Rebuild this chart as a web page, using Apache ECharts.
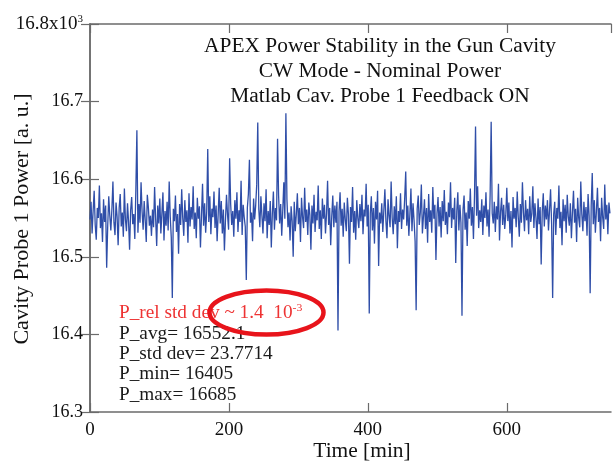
<!DOCTYPE html>
<html>
<head>
<meta charset="utf-8">
<script src="https://cdn.jsdelivr.net/npm/echarts@6/dist/echarts.min.js"></script>
<style>
	html, body { margin: 0; padding: 0; background: #fff; }
	#probe-power { width: 615px; height: 464px; }
</style>
</head>
<body>
<div id="probe-power"></div>
<script>
// 采样间隔(min)
var timeStep = 1.5;

// 腔体探针1功率读数 (a.u.)，每 1.5 min 一个点
var probePower = [
	16548, 16571, 16530, 16559, 16585, 16541, 16522, 16563, 16550, 16592, 16537, 16556, 16519, 16574, 16545, 16566, 16486, 16540, 16578, 16553,
	16534, 16561, 16597, 16544, 16528, 16570, 16552, 16515, 16563, 16581, 16539, 16557, 16526, 16588, 16548, 16533, 16569, 16545, 16509, 16560,
	16577, 16542, 16555, 16523, 16586, 16663, 16531, 16568, 16544, 16596, 16558, 16535, 16572, 16547, 16519, 16580, 16564, 16540, 16553, 16527,
	16561, 16538, 16590, 16549, 16514, 16566, 16543, 16575, 16530, 16556, 16583, 16521, 16559, 16540, 16571, 16534, 16597, 16552, 16525, 16447,
	16562, 16546, 16579, 16532, 16555, 16504, 16568, 16541, 16587, 16550, 16527, 16573, 16545, 16560, 16518, 16582, 16539, 16564, 16548, 16591,
	16536, 16557, 16524, 16576, 16549, 16565, 16512, 16553, 16594, 16540, 16569, 16531, 16558, 16639, 16545, 16578, 16529, 16562, 16551, 16584,
	16537, 16566, 16520, 16555, 16589, 16543, 16572, 16530, 16561, 16508, 16547, 16580, 16554, 16535, 16627, 16568, 16541, 16559, 16526, 16573,
	16549, 16583, 16532, 16560, 16545, 16598, 16528, 16567, 16551, 16539, 16470, 16563, 16581, 16625, 16544, 16557, 16520, 16575, 16548, 16566,
	16593, 16673, 16561, 16538, 16578, 16553, 16530, 16569, 16546, 16587, 16524, 16559, 16541, 16572, 16512, 16556, 16584, 16535, 16563, 16547,
	16652, 16579, 16543, 16568, 16527, 16560, 16596, 16549, 16685, 16574, 16538, 16557, 16521, 16565, 16546, 16500, 16571, 16533, 16555, 16582,
	16542, 16563, 16519, 16576, 16551, 16537, 16589, 16545, 16561, 16528, 16570, 16554, 16509, 16566, 16543, 16580, 16532, 16558, 16547, 16592,
	16536, 16560, 16523, 16575, 16549, 16567, 16530, 16556, 16598, 16541, 16563, 16515, 16552, 16579, 16538, 16566, 16544, 16571, 16405, 16558,
	16583, 16540, 16562, 16526, 16570, 16548, 16533, 16576, 16555, 16491, 16564, 16545, 16590, 16531, 16559, 16522, 16573, 16550, 16537, 16568,
	16546, 16580, 16529, 16561, 16552, 16594, 16539, 16567, 16427, 16556, 16578, 16534, 16563, 16517, 16571, 16548, 16585, 16488, 16557, 16543,
	16569, 16532, 16560, 16587, 16546, 16524, 16574, 16553, 16538, 16597, 16550, 16529, 16565, 16542, 16578, 16511, 16559, 16545, 16582, 16536,
	16561, 16548, 16575, 16610, 16540, 16566, 16527, 16555, 16588, 16533, 16569, 16547, 16520, 16431, 16562, 16579, 16541, 16557, 16593, 16530,
	16552, 16574, 16536, 16563, 16518, 16581, 16545, 16560, 16531, 16590, 16549, 16567, 16496, 16556, 16577, 16539, 16564, 16525, 16572, 16546,
	16586, 16541, 16558, 16529, 16570, 16551, 16596, 16537, 16563, 16548, 16576, 16492, 16559, 16583, 16534, 16567, 16544, 16424, 16561, 16579,
	16535, 16557, 16514, 16572, 16549, 16588, 16540, 16564, 16523, 16578, 16668, 16553, 16591, 16537, 16560, 16545, 16574, 16528, 16566, 16550,
	16583, 16539, 16561, 16526, 16580, 16674, 16556, 16543, 16571, 16532, 16565, 16548, 16594, 16521, 16558, 16576, 16541, 16567, 16536, 16553,
	16589, 16546, 16570, 16530, 16559, 16512, 16577, 16549, 16563, 16538, 16584, 16551, 16526, 16568, 16544, 16596, 16557, 16533, 16573, 16547,
	16562, 16529, 16578, 16545, 16556, 16591, 16537, 16569, 16550, 16523, 16575, 16542, 16564, 16490, 16558, 16582, 16539, 16566, 16548, 16573,
	16534, 16560, 16587, 16543, 16447, 16555, 16571, 16528, 16563, 16549, 16592, 16537, 16558, 16515, 16574, 16546, 16567, 16531, 16580, 16552,
	16540, 16569, 16524, 16557, 16585, 16544, 16562, 16519, 16576, 16550, 16538, 16597, 16555, 16533, 16571, 16546, 16564, 16527, 16581, 16553,
	16453, 16566, 16608, 16542, 16573, 16531, 16559, 16589, 16545, 16563, 16520, 16576, 16551, 16536, 16593, 16548, 16567, 16529, 16570, 16556
];

// 坐标轴刻度
var xTicks = [0, 750, 200];          // min, max, interval
var yTicks = [16300, 16800, 100];

// 文字
var titleLines = ['APEX Power Stability in the Gun Cavity', 'CW Mode - Nominal Power', 'Matlab Cav. Probe 1 Feedback ON'];
var statLines = ['P_avg= 16552.1', 'P_std dev= 23.7714', 'P_min= 16405', 'P_max= 16685'];
var xName = 'Time [min]';
var yName = 'Cavity Probe 1 Power [a. u.]';

var serif = '"Liberation Serif", "DejaVu Serif", serif';
var frameColor = '#6b6b6b';
// 原图文字略微横向拉伸
var stretch = 1.07;

var chartObj = echarts.init(document.getElementById('probe-power'));

var seriesData = [];
for (var i = 0; i < probePower.length; i++) {
	seriesData.push([i * timeStep, probePower[i]]);
}

// 上/右侧只画刻度的镜像轴
function mirrorAxis(base, pos) {
	return {
		type: 'value', position: pos,
		min: base[0], max: base[1], interval: base[2],
		axisLine: { show: true, lineStyle: { color: frameColor, width: 1.5 } },
		axisTick: { show: true, inside: true, length: 9, lineStyle: { color: frameColor, width: 1.2 } },
		axisLabel: { show: false },
		splitLine: { show: false }
	};
}

var titleGraphics = titleLines.map(function (txt, k) {
	return {
		type: 'text', x: 380, y: 47 + k * 25, scaleX: stretch, z: 10,
		style: { text: txt, font: '20px ' + serif, fill: '#111', align: 'center', verticalAlign: 'middle' }
	};
});

var statGraphics = statLines.map(function (txt, k) {
	return {
		type: 'text', x: 119, y: 334 + k * 20.3, scaleX: stretch, z: 10,
		style: { text: txt, font: '18px ' + serif, fill: '#1a1a1a', align: 'left', verticalAlign: 'middle' }
	};
});

var option = {
	animation: false,
	grid: { left: 90, right: 4, top: 24, bottom: 52, containLabel: false, outerBoundsMode: 'none' },
	xAxis: [
		{
			type: 'value', min: xTicks[0], max: xTicks[1], interval: xTicks[2],
			axisLine: { show: true, lineStyle: { color: frameColor, width: 1.5 } },
			axisTick: { show: true, inside: true, length: 9, lineStyle: { color: frameColor, width: 1.2 } },
			axisLabel: { showMaxLabel: false, margin: 9, fontFamily: serif, fontSize: 19, color: '#111' },
			splitLine: { show: false }
		},
		mirrorAxis(xTicks, 'top')
	],
	yAxis: [
		{
			type: 'value', position: 'left', min: yTicks[0], max: yTicks[1], interval: yTicks[2],
			axisLine: { show: true, lineStyle: { color: frameColor, width: 1.5 } },
			axisTick: { show: true, inside: true, length: 9, lineStyle: { color: frameColor, width: 1.2 } },
			axisLabel: {
				margin: 7, fontFamily: serif, fontSize: 18, color: '#111',
				formatter: function (v) {
					if (v === yTicks[1]) return '{a|' + (v / 1000).toFixed(1) + 'x10}{s|3}';
					return (v / 1000).toFixed(1);
				},
				rich: {
					a: { fontFamily: serif, fontSize: 19, color: '#111', lineHeight: 20 },
					s: { fontFamily: serif, fontSize: 11, color: '#111', verticalAlign: 'top', lineHeight: 20, padding: [0, 0, 8, 0] }
				}
			},
			splitLine: { show: false }
		},
		mirrorAxis(yTicks, 'right')
	],
	series: [
		{
			type: 'line',
			data: seriesData,
			showSymbol: false,
			symbol: 'none',
			lineStyle: { color: '#2f4ea8', width: 1.3 },
			z: 2
		}
	],
	graphic: titleGraphics.concat([
		{
			type: 'text', x: 362, y: 452, scaleX: stretch, z: 10,
			style: { text: xName, font: '20px ' + serif, fill: '#111', align: 'center', verticalAlign: 'middle' }
		},
		{
			type: 'text', x: 23, y: 219, rotation: Math.PI / 2, scaleX: 1.1, z: 10,
			style: { text: yName, font: '20px ' + serif, fill: '#111', align: 'center', verticalAlign: 'middle' }
		},
		{
			type: 'text', x: 119, y: 303, scaleX: stretch, z: 10,
			style: {
				text: '{a|P_rel std dev ~ 1.4  10}{s|-3}',
				rich: {
					a: { font: '18px ' + serif, fill: '#ee3333', lineHeight: 20 },
					s: { font: '11px ' + serif, fill: '#ee3333', lineHeight: 20, verticalAlign: 'top' }
				}
			}
		}
	]).concat(statGraphics).concat([
		{
			type: 'ellipse', z: 20,
			shape: { cx: 266.5, cy: 312.5, rx: 57, ry: 22 },
			style: { fill: 'none', stroke: '#e8141b', lineWidth: 4.5 }
		}
	])
};

chartObj.setOption(option);
</script>
</body>
</html>
